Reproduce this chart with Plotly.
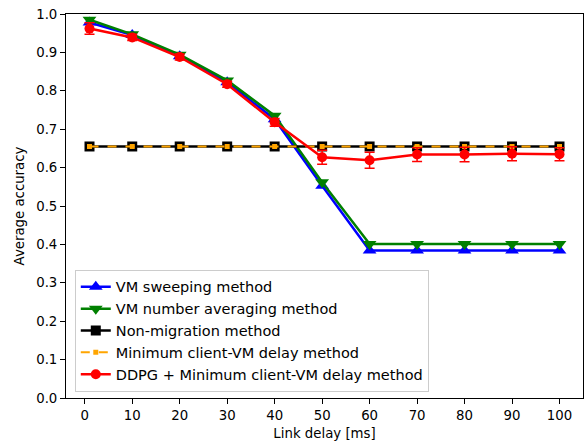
import plotly.graph_objects as go

delays = [1, 10, 20, 30, 40, 50, 60, 70, 80, 90, 100]
sweeping = [0.978, 0.945, 0.890, 0.822, 0.726, 0.553, 0.384, 0.384, 0.384, 0.384, 0.384]
averaging = [0.985, 0.947, 0.894, 0.827, 0.735, 0.562, 0.401, 0.401, 0.401, 0.401, 0.401]
non_migration = [0.655] * 11
min_delay = [0.655] * 11
ddpg = [0.962, 0.939, 0.888, 0.817, 0.718, 0.627, 0.619, 0.634, 0.634, 0.636, 0.635]
ddpg_err = [0.015, 0.008, 0.008, 0.008, 0.010, 0.018, 0.021, 0.018, 0.019, 0.018, 0.017]

x_ticks = [0, 10, 20, 30, 40, 50, 60, 70, 80, 90, 100]
y_ticks = [0.0, 0.1, 0.2, 0.3, 0.4, 0.5, 0.6, 0.7, 0.8, 0.9, 1.0]

font = "DejaVu Sans"
fs = 13.3
fig = go.Figure()
fig.add_trace(go.Scatter(x=delays, y=sweeping, name="VM sweeping method", mode="lines+markers",
                         line=dict(color="blue", width=2.5),
                         marker=dict(symbol="triangle-up", size=12, color="blue")))
fig.add_trace(go.Scatter(x=delays, y=averaging, name="VM number averaging method", mode="lines+markers",
                         line=dict(color="green", width=2.5),
                         marker=dict(symbol="triangle-down", size=12, color="green")))
fig.add_trace(go.Scatter(x=delays, y=non_migration, name="Non-migration method", mode="lines+markers",
                         line=dict(color="black", width=2.5),
                         marker=dict(symbol="square", size=10, color="black")))
fig.add_trace(go.Scatter(x=delays, y=min_delay, name="Minimum client-VM delay method", mode="lines+markers",
                         line=dict(color="orange", width=2, dash="dash"),
                         marker=dict(symbol="square", size=5, color="orange")))
fig.add_trace(go.Scatter(x=delays, y=ddpg, name="DDPG + Minimum client-VM delay method", mode="lines+markers",
                         line=dict(color="red", width=2.5),
                         marker=dict(symbol="circle", size=10, color="red"),
                         error_y=dict(type="data", array=ddpg_err, visible=True, color="red",
                                      thickness=1.5, width=5)))

axis_common = dict(showline=True, linecolor="black", linewidth=1, mirror=True, automargin=False,
                   ticks="outside", ticklen=5, tickcolor="black", showgrid=False,
                   zeroline=False, tickfont=dict(size=fs, color="black", family=font))
fig.update_xaxes(range=[-3.95, 104.95], tickvals=x_ticks,
                 title=dict(text="Link delay [ms]", font=dict(size=fs, color="black", family=font), standoff=6),
                 **axis_common)
fig.update_yaxes(range=[0, 1.0], tickvals=y_ticks, tickformat=".1f",
                 title=dict(text="Average accuracy", font=dict(size=fs, color="black", family=font), standoff=8),
                 **axis_common)
fig.update_layout(
    width=585, height=447,
    margin=dict(l=66, r=2, t=14, b=49),
    paper_bgcolor="white", plot_bgcolor="white",
    font=dict(family=font, size=fs, color="black"),
    showlegend=True,
    legend=dict(x=0.017, y=0.016, xanchor="left", yanchor="bottom",
                bordercolor="#cccccc", borderwidth=1, bgcolor="rgba(255,255,255,0.8)",
                font=dict(size=14.5, family=font, color="black"), tracegroupgap=0),
)
fig.write_html("out.html", config={"displayModeBar": False},
               post_script="document.body.style.margin='0';document.body.style.overflow='hidden';")
